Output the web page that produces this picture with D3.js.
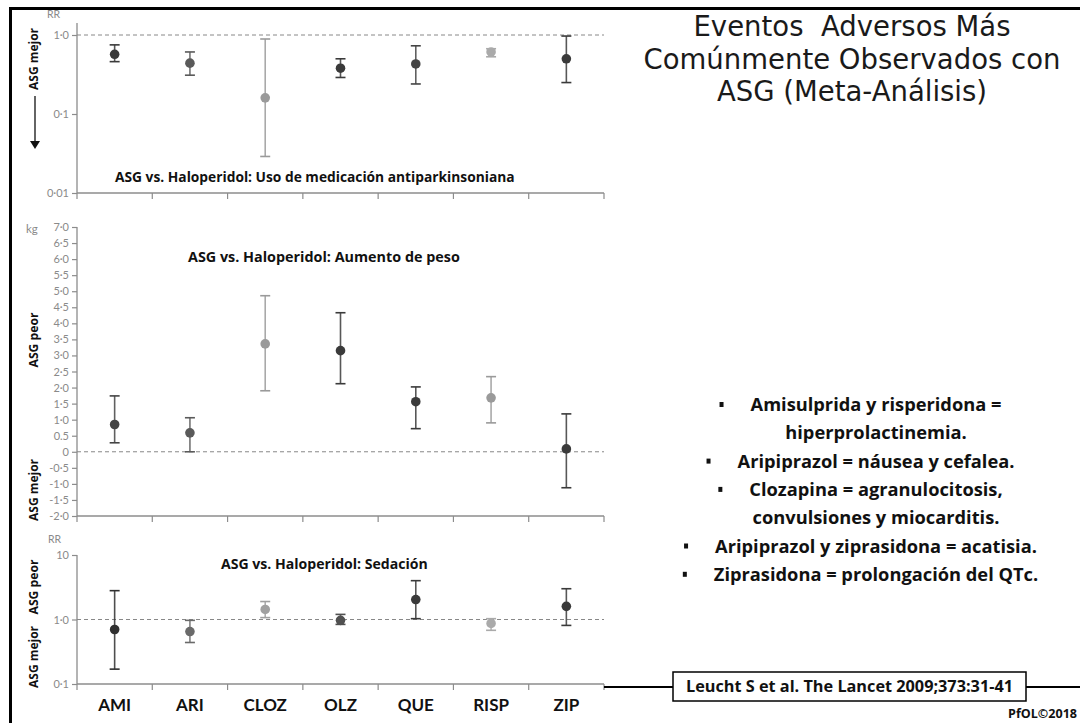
<!DOCTYPE html>
<html><head><meta charset="utf-8">
<script src="https://cdn.jsdelivr.net/npm/d3@7"></script>
<style>
html,body{margin:0;padding:0;background:#fff;}
svg{display:block;font-family:"Open Sans",Lato,sans-serif;}
</style></head>
<body>
<svg id="c" width="1080" height="723"></svg>
<script>
// ---------- data ----------
const categories = ["AMI","ARI","CLOZ","OLZ","QUE","RISP","ZIP"];

// Panel 1: antiparkinsonian medication use (RR, log scale)
const epsEst  = [0.57, 0.44, 0.16, 0.38, 0.43, 0.61, 0.50];
const epsLow  = [0.46, 0.31, 0.029, 0.29, 0.24, 0.53, 0.25];
const epsHigh = [0.75, 0.61, 0.89, 0.50, 0.73, 0.67, 0.97];
const epsTicks = [1, 0.1, 0.01];
const epsTickLabels = ["1·0", "0·1", "0·01"];

// Panel 2: weight gain (kg)
const weightEst  = [0.85, 0.59, 3.36, 3.15, 1.56, 1.68, 0.09];
const weightLow  = [0.28, 0.00, 1.90, 2.12, 0.72, 0.90, -1.12];
const weightHigh = [1.74, 1.06, 4.86, 4.33, 2.02, 2.34, 1.18];
const weightTicks = [7,6.5,6,5.5,5,4.5,4,3.5,3,2.5,2,1.5,1,0.5,0,-0.5,-1,-1.5,-2];
const weightTickLabels = ["7·0","6·5","6·0","5·5","5·0","4·5","4·0","3·5","3·0","2·5","2·0","1·5","1·0","0.5","0","-0·5","-1·0","-1·5","-2·0"];

// Panel 3: sedation (RR, log scale)
const sedEst  = [0.70, 0.65, 1.43, 0.97, 2.04, 0.87, 1.60];
const sedLow  = [0.17, 0.44, 1.07, 0.84, 1.03, 0.68, 0.81];
const sedHigh = [2.80, 0.97, 1.90, 1.20, 4.00, 1.03, 3.00];
const sedTicks = [10, 1, 0.1];
const sedTickLabels = ["10", "1·0", "0·1"];

const bullets = [
  ["Amisulprida y risperidona =", true],
  ["hiperprolactinemia.", false],
  ["Aripiprazol = náusea y cefalea.", true],
  ["Clozapina = agranulocitosis,", true],
  ["convulsiones y miocarditis.", false],
  ["Aripiprazol y ziprasidona = acatisia.", true],
  ["Ziprasidona = prolongación del QTc.", true]
];
const titleLines = ["Eventos  Adversos Más", "Comúnmente Observados con", "ASG (Meta-Análisis)"];

// ---------- styles (marker tones per panel) ----------
const tones = {
  eps:    ["#3a3a3a","#5a5a5a","#9a9a9a","#3a3a3a","#444","#aaaaaa","#3a3a3a"],
  weight: ["#444","#5a5a5a","#9a9a9a","#3a3a3a","#3a3a3a","#9a9a9a","#3a3a3a"],
  sed:    ["#2f2f2f","#6a6a6a","#a0a0a0","#505050","#3a3a3a","#aaaaaa","#3a3a3a"]
};

const svg = d3.select("#c");
const axisGray = "#8c8c8c";
const labelGray = "#8a8a8a";

// scale a text's font-size so that its rendered width equals target
function fit(sel, target) {
  const fs = parseFloat(sel.attr("font-size"));
  const w = sel.node().getComputedTextLength();
  const nfs = fs * target / w;
  sel.attr("font-size", nfs.toFixed(2));
  return nfs;
}

const x = d3.scaleBand().domain(categories).range([77, 604]);

function drawPanel(opts) {
  const g = svg.append("g");
  const y = opts.y;
  const ax = d3.axisLeft(y).tickValues(opts.ticks)
    .tickFormat((d,i) => opts.labels[i]).tickSize(5).tickPadding(3);
  const ga = g.append("g").attr("transform", "translate(77,0)").call(ax);
  ga.select(".domain").attr("stroke", axisGray).attr("stroke-width", 1.3)
    .attr("d", `M0,${opts.yTop}V${opts.yBase}`);
  ga.selectAll(".tick line").attr("stroke", axisGray).attr("stroke-width", 1.2);
  ga.selectAll(".tick text").attr("fill", labelGray).attr("font-size", 11)
    .attr("font-family", "Lato, sans-serif");
  g.append("line").attr("x1", 77).attr("x2", 604)
    .attr("y1", opts.yBase).attr("y2", opts.yBase)
    .attr("stroke", axisGray).attr("stroke-width", 1.5);
  const bounds = categories.map(c => x(c)).concat([x.range()[1]]);
  g.selectAll(".bt").data(bounds).join("line")
    .attr("x1", d => d).attr("x2", d => d)
    .attr("y1", opts.yBase).attr("y2", opts.yBase + 6)
    .attr("stroke", axisGray).attr("stroke-width", 1.2);
  g.append("line").attr("x1", 77).attr("x2", 604)
    .attr("y1", y(opts.ref)).attr("y2", y(opts.ref))
    .attr("stroke", "#888").attr("stroke-width", 1).attr("stroke-dasharray", "4,3");
  const rows = categories.map((c,i) => ({c, est: opts.est[i], lo: opts.lo[i], hi: opts.hi[i], tone: opts.tones[i]}));
  const cx = d => x(d.c) + x.bandwidth()/2;
  const eb = g.selectAll(".eb").data(rows).join("g");
  eb.append("line").attr("x1", cx).attr("x2", cx)
    .attr("y1", d => y(d.lo)).attr("y2", d => y(d.hi))
    .attr("stroke", d => d.tone).attr("stroke-opacity", 0.85).attr("stroke-width", 1.6);
  eb.append("line").attr("x1", d => cx(d)-5).attr("x2", d => cx(d)+5)
    .attr("y1", d => y(d.hi)).attr("y2", d => y(d.hi))
    .attr("stroke", d => d.tone).attr("stroke-width", 1.6);
  eb.append("line").attr("x1", d => cx(d)-5).attr("x2", d => cx(d)+5)
    .attr("y1", d => y(d.lo)).attr("y2", d => y(d.lo))
    .attr("stroke", d => d.tone).attr("stroke-width", 1.6);
  eb.append("circle").attr("cx", cx).attr("cy", d => y(d.est)).attr("r", 4.8)
    .attr("fill", d => d.tone);
  const t = g.append("text").attr("x", opts.titleX).attr("y", opts.titleY)
    .attr("font-size", 12).attr("font-weight", 700).attr("fill", "#111")
    .text(opts.title);
  fit(t, opts.titleW);
  return g;
}

drawPanel({
  y: d3.scaleLog().domain([0.01, 1]).range([193, 35]),
  ticks: epsTicks, labels: epsTickLabels, yTop: 23, yBase: 193, ref: 1,
  est: epsEst, lo: epsLow, hi: epsHigh, tones: tones.eps,
  title: "ASG vs. Haloperidol: Uso de medicación antiparkinsoniana", titleX: 115, titleY: 182, titleW: 400
});
drawPanel({
  y: d3.scaleLinear().domain([-2, 7]).range([516, 227]),
  ticks: weightTicks, labels: weightTickLabels, yTop: 227, yBase: 516, ref: 0,
  est: weightEst, lo: weightLow, hi: weightHigh, tones: tones.weight,
  title: "ASG vs. Haloperidol: Aumento de peso", titleX: 188, titleY: 262, titleW: 272
});
drawPanel({
  y: d3.scaleLog().domain([0.1, 10]).range([684, 555]),
  ticks: sedTicks, labels: sedTickLabels, yTop: 555, yBase: 684, ref: 1,
  est: sedEst, lo: sedLow, hi: sedHigh, tones: tones.sed,
  title: "ASG vs. Haloperidol: Sedación", titleX: 221, titleY: 569, titleW: 207
});

// unit labels
svg.append("text").attr("x", 47).attr("y", 18).attr("font-size", 10.5).attr("fill", labelGray).attr("font-family","Lato, sans-serif").text("RR");
svg.append("text").attr("x", 48).attr("y", 543).attr("font-size", 10.5).attr("fill", labelGray).attr("font-family","Lato, sans-serif").text("RR");
svg.append("text").attr("x", 26).attr("y", 233).attr("font-size", 11.5).attr("fill", labelGray).attr("font-family","Lato, sans-serif").text("kg");

// rotated side labels
function sideLabel(txt, cx, cy, w) {
  const t = svg.append("text").attr("transform", `translate(${cx},${cy}) rotate(-90)`)
    .attr("text-anchor", "middle").attr("dominant-baseline", "central")
    .attr("font-size", 12).attr("font-weight", 700).attr("fill", "#111").text(txt);
  fit(t, w);
}
sideLabel("ASG mejor", 33, 59, 62);
sideLabel("ASG peor", 33, 340, 55);
sideLabel("ASG mejor", 33, 490, 62);
sideLabel("ASG peor", 33, 587, 55);
sideLabel("ASG mejor", 33, 657, 62);

// arrow in top panel
svg.append("line").attr("x1", 35).attr("x2", 35).attr("y1", 96).attr("y2", 142)
  .attr("stroke", "#111").attr("stroke-width", 1.3);
svg.append("path").attr("d", "M30,141 L40,141 L35,149 Z").attr("fill", "#111");

// category labels
svg.selectAll(".cat").data(categories).join("text")
  .attr("x", d => x(d) + x.bandwidth()/2).attr("y", 711)
  .attr("text-anchor", "middle").attr("font-size", 17).attr("font-weight", 700)
  .attr("font-family", "Lato, sans-serif")
  .attr("fill", "#111").text(d => d);

// frame
svg.append("line").attr("x1", 9).attr("x2", 1080).attr("y1", 8.5).attr("y2", 8.5)
  .attr("stroke", "#000").attr("stroke-width", 3);
svg.append("line").attr("x1", 10.5).attr("x2", 10.5).attr("y1", 7).attr("y2", 723)
  .attr("stroke", "#000").attr("stroke-width", 3);

// title (DejaVu Sans has a compact line box, so the 3 lines do not collide)
const tl = svg.selectAll(".tl").data(titleLines).join("text")
  .attr("x", 852).attr("y", (d,i) => 36 + i*32.5)
  .attr("text-anchor", "middle").attr("font-size", 26).attr("fill", "#1a1a1a")
  .attr("font-family", "'DejaVu Sans', sans-serif")
  .style("white-space", "pre").text(d => d);
let tfs = 26 * 417 / tl.nodes()[1].getComputedTextLength();
tfs = Math.min(tfs, 27.6);
tl.attr("font-size", tfs.toFixed(2));

// bullets
const bt = svg.selectAll(".bl").data(bullets).join("text")
  .attr("x", 876).attr("y", (d,i) => 411 + i*28.3)
  .attr("text-anchor", "middle").attr("font-size", 16).attr("font-weight", 700)
  .attr("fill", "#111").text(d => d[0]);
const bfs = fit(d3.select(bt.nodes()[5]), 322);
bt.attr("font-size", bfs.toFixed(2));
bt.each(function(d, i) {
  if (!d[1]) return;
  const bb = this.getBBox();
  svg.append("rect").attr("x", bb.x - 31).attr("y", 411 + i*28.3 - 9)
    .attr("width", 4).attr("height", 5).attr("fill", "#111");
});

// reference box
svg.append("line").attr("x1", 604).attr("x2", 673).attr("y1", 687).attr("y2", 687)
  .attr("stroke", "#000").attr("stroke-width", 2);
svg.append("line").attr("x1", 1026).attr("x2", 1080).attr("y1", 687).attr("y2", 687)
  .attr("stroke", "#000").attr("stroke-width", 2);
svg.append("rect").attr("x", 673).attr("y", 672).attr("width", 353).attr("height", 29)
  .attr("fill", "#fff").attr("stroke", "#000").attr("stroke-width", 1.5);
const ref = svg.append("text").attr("x", 849.5).attr("y", 692).attr("text-anchor", "middle")
  .attr("font-size", 14).attr("font-weight", 700).attr("fill", "#111")
  .text("Leucht S et al. The Lancet 2009;373:31-41");
fit(ref, 327);
const pf = svg.append("text").attr("x", 1077).attr("y", 718).attr("text-anchor", "end")
  .attr("font-size", 11).attr("font-weight", 700).attr("fill", "#111").text("PfOL©2018");
fit(pf, 69);
</script>
</body></html>
